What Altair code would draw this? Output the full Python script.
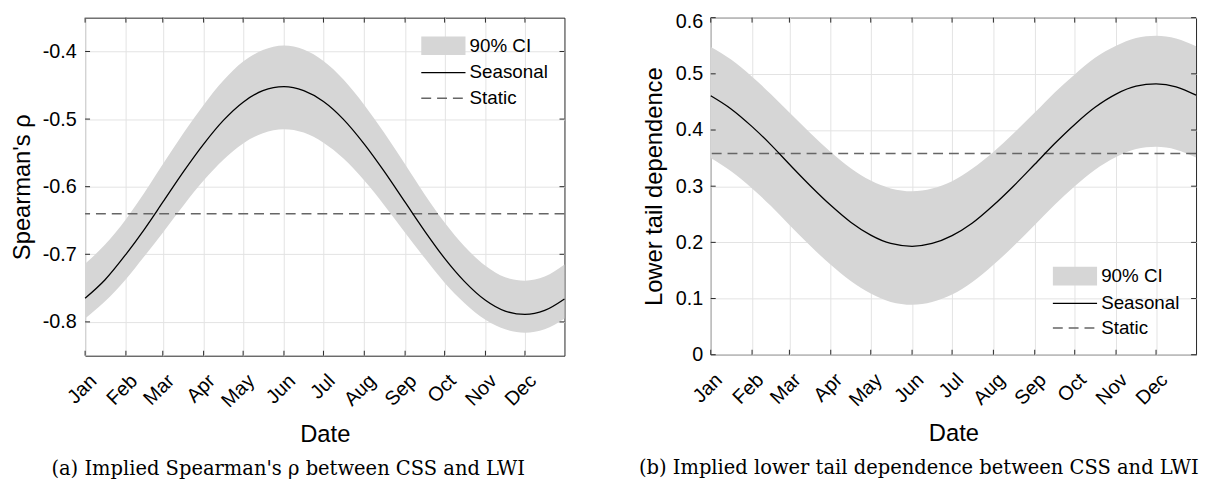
import altair as alt
import pandas as pd

# ---- data ----
days = [0, 15, 31, 45, 59, 75, 90, 105, 120, 135, 151, 166, 181, 196, 212,
        227, 243, 258, 273, 288, 304, 319, 334, 349, 364]
month_days = [0, 31, 59, 90, 120, 151, 181, 212, 243, 273, 304, 334]
month_names = ["Jan", "Feb", "Mar", "Apr", "May", "Jun",
               "Jul", "Aug", "Sep", "Oct", "Nov", "Dec"]

rho_seasonal = [-0.765, -0.738, -0.700, -0.663, -0.623, -0.577, -0.537, -0.502, -0.475,
                -0.458, -0.452, -0.458, -0.474, -0.500, -0.537, -0.577, -0.623, -0.666,
                -0.706, -0.740, -0.768, -0.784, -0.789, -0.783, -0.766]
rho_upper = [-0.714, -0.686, -0.648, -0.609, -0.567, -0.520, -0.479, -0.443, -0.415,
             -0.398, -0.391, -0.397, -0.414, -0.441, -0.479, -0.520, -0.567, -0.612,
             -0.653, -0.688, -0.717, -0.734, -0.739, -0.733, -0.715]
rho_lower = [-0.795, -0.770, -0.737, -0.703, -0.668, -0.627, -0.591, -0.560, -0.536,
             -0.521, -0.515, -0.520, -0.535, -0.558, -0.591, -0.627, -0.668, -0.706,
             -0.742, -0.772, -0.797, -0.811, -0.816, -0.811, -0.795]
rho_static = -0.64
rho_ticks = [-0.8, -0.7, -0.6, -0.5, -0.4]
rho_domain = [-0.85, -0.35]

tail_seasonal = [0.461, 0.438, 0.406, 0.374, 0.339, 0.300, 0.266, 0.236, 0.213, 0.198,
                 0.193, 0.198, 0.212, 0.234, 0.266, 0.300, 0.339, 0.376, 0.410, 0.440,
                 0.464, 0.478, 0.482, 0.477, 0.462]
tail_upper = [0.548, 0.526, 0.495, 0.464, 0.431, 0.394, 0.361, 0.332, 0.310, 0.296,
              0.291, 0.296, 0.309, 0.331, 0.361, 0.394, 0.431, 0.467, 0.499, 0.528,
              0.550, 0.564, 0.568, 0.563, 0.549]
tail_lower = [0.350, 0.327, 0.296, 0.265, 0.231, 0.193, 0.160, 0.131, 0.109, 0.094,
              0.089, 0.094, 0.107, 0.129, 0.160, 0.193, 0.231, 0.267, 0.300, 0.329,
              0.352, 0.366, 0.370, 0.365, 0.351]
tail_static = 0.358
tail_ticks = [0, 0.1, 0.2, 0.3, 0.4, 0.5, 0.6]
tail_domain = [0, 0.6]

x_domain = [0, 364]

# ---- styling ----
SANS = "Liberation Sans"
BAND = "#d6d6d6"
AXIS_COLOR = "#262626"
STATIC_COLOR = "#666666"
RECT_SYMBOL = "M-1,-0.42L1,-0.42L1,0.42L-1,0.42Z"
TICK_PX = 5

month_expr = ("[" + ",".join(f"'{m}'" for m in month_names) + "][indexof(["
              + ",".join(str(d) for d in month_days) + "], datum.value)]")
num_expr = "replace(format(datum.value, '~g'), '\u2212', '-')"


def legend(x, y, **kw):
    base = dict(orient="none", legendX=x, legendY=y, title=None, padding=0,
                symbolOffset=0, labelFont=SANS, labelFontSize=19, labelColor="#000000",
                direction="vertical")
    base.update(kw)
    return alt.Legend(**base)


def panel(seas, up, lo, static, ydom, yticks, ytitle, caption, width, height,
          ylabpad, ytitpad, leg, cap_dx, ylab_offset):
    df = pd.DataFrame({"day": days, "seasonal": seas, "upper": up, "lower": lo})
    xscale = alt.Scale(domain=x_domain, nice=False, zero=False)
    yscale = alt.Scale(domain=ydom, nice=False, zero=False)
    xaxis = alt.Axis(values=month_days, labelExpr=month_expr, labelAngle=315,
                     labelAlign="right", labelBaseline="middle", labelPadding=22,
                     labelOffset=8, labelOverlap=False, title="Date", titlePadding=12,
                     grid=True, ticks=False, tickSize=0, domain=False)
    yaxis = alt.Axis(values=yticks, labelExpr=num_expr, labelPadding=ylabpad,
                     labelOffset=ylab_offset, labelOverlap=False, title=ytitle,
                     titlePadding=ytitpad, grid=True, ticks=False, tickSize=0, domain=False)
    X = alt.X("day:Q", scale=xscale, axis=xaxis, title="Date")

    def Y(field):
        return alt.Y(field, type="quantitative", scale=yscale, axis=yaxis, title=ytitle)

    band = alt.Chart(df).transform_calculate(ci="'90% CI'").mark_area(
        interpolate="monotone", opacity=1, strokeWidth=0).encode(
        x=X, y=Y("upper"), y2=alt.Y2("lower"),
        fill=alt.Fill("ci:N", scale=alt.Scale(domain=["90% CI"], range=[BAND]),
                      legend=legend(leg[0][0], leg[0][1], symbolType=RECT_SYMBOL,
                                    symbolSize=2000, symbolStrokeWidth=0,
                                    symbolOpacity=1, labelOffset=4)))

    static_df = pd.DataFrame({"static": [static]})
    stat = alt.Chart(static_df).transform_calculate(lab="'Static'").mark_rule(
        color=STATIC_COLOR, strokeWidth=1.5).encode(
        y=Y("static"),
        strokeDash=alt.StrokeDash("lab:N", scale=alt.Scale(domain=["Static"], range=[[10, 6]]),
                                  legend=legend(leg[2][0], leg[2][1], symbolType="stroke",
                                                symbolSize=2000, symbolStrokeWidth=1.5,
                                                symbolStrokeColor=STATIC_COLOR,
                                                labelOffset=3)))

    line = alt.Chart(df).transform_calculate(lab="'Seasonal'").mark_line(
        interpolate="monotone", strokeWidth=1.3).encode(
        x=X, y=Y("seasonal"),
        stroke=alt.Stroke("lab:N", scale=alt.Scale(domain=["Seasonal"], range=["#000000"]),
                          legend=legend(leg[1][0], leg[1][1], symbolType="stroke",
                                        symbolSize=2000, symbolStrokeWidth=1.3,
                                        labelOffset=3)))

    # inward tick marks (length TICK_PX converted to data units)
    dx = TICK_PX * (x_domain[1] - x_domain[0]) / width
    dy = TICK_PX * (ydom[1] - ydom[0]) / height
    xt = pd.DataFrame({"day": month_days})
    yt = pd.DataFrame({"v": yticks})
    rk = dict(color=AXIS_COLOR, strokeWidth=1)
    bottom = alt.Chart(xt).mark_rule(**rk).encode(
        x=X, y=alt.datum(ydom[0]), y2=alt.datum(ydom[0] + dy))
    top = alt.Chart(xt).mark_rule(**rk).encode(
        x=X, y=alt.datum(ydom[1]), y2=alt.datum(ydom[1] - dy))
    left = alt.Chart(yt).mark_rule(**rk).encode(
        y=Y("v"), x=alt.datum(x_domain[0]), x2=alt.datum(x_domain[0] + dx))
    right = alt.Chart(yt).mark_rule(**rk).encode(
        y=Y("v"), x=alt.datum(x_domain[1]), x2=alt.datum(x_domain[1] - dx))

    return alt.layer(band, stat, line, bottom, top, left, right).properties(
        width=width, height=height,
        title=alt.TitleParams(caption, orient="bottom", anchor="middle", offset=13,
                              dx=cap_dx))


left_panel = panel(rho_seasonal, rho_upper, rho_lower, rho_static, rho_domain, rho_ticks,
                   "Spearman's \u03c1", "(a) Implied Spearman's \u03c1 between CSS and LWI",
                   485, 342, 9, 7.5,
                   [(340, 6), (339, 32), (339, 58)], -37, 0)
right_panel = panel(tail_seasonal, tail_upper, tail_lower, tail_static, tail_domain, tail_ticks,
                    "Lower tail dependence", "(b) Implied lower tail dependence between CSS and LWI",
                    491, 341, 8, 8.7,
                    [(346, 239), (345, 265.5), (345, 290.5)], -35,
                    {"condition": {"test": "datum.value >= 0.6", "value": 4}, "value": 0})

chart = alt.hconcat(left_panel, right_panel, spacing=70).resolve_scale(
    x="independent", y="independent", fill="independent", stroke="independent",
    strokeDash="independent").resolve_legend(
    fill="independent", stroke="independent", strokeDash="independent").configure_view(
    stroke=AXIS_COLOR, strokeWidth=1).configure_axis(
    labelFont=SANS, labelFontSize=20, labelColor="#000000", titleFont=SANS,
    titleFontSize=24, titleFontWeight="normal", titleColor="#000000",
    gridColor="#e3e3e3", gridWidth=1, gridOpacity=1).configure_title(
    font="DejaVu Serif", fontSize=19.7, fontWeight="normal", color="#000000").properties(
    padding={"left": 2, "top": 0, "right": 0, "bottom": 0}, background="white")

chart.save("out.html", embed_options={"renderer": "svg", "actions": False})
